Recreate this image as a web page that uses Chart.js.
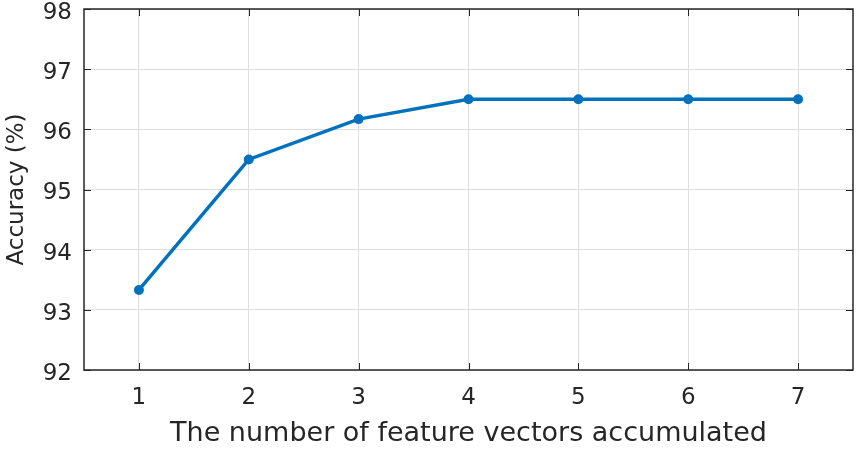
<!DOCTYPE html>
<html>
<head>
<meta charset="utf-8">
<script src="https://cdn.jsdelivr.net/npm/chart.js@4/dist/chart.umd.min.js"></script>
<style>
  html, body { margin: 0; padding: 0; background: #fff; }
  #chart { display: block; }
</style>
</head>
<body>
<canvas id="chart" width="862" height="450"></canvas>
<script>
// Data
const featureCounts = [1, 2, 3, 4, 5, 6, 7];
const accuracy = [93.33, 95.5, 96.17, 96.5, 96.5, 96.5, 96.5];
const yTicks = [92, 93, 94, 95, 96, 97, 98];

const textColor = '#262626';
const gridColor = '#dedede';
const lineColor = '#0072bd';
const fontFamily = '"DejaVu Sans", sans-serif';

// Draws the MATLAB-style box and inward ticks on all four sides
const boxPlugin = {
    id: 'box',
    afterDraw: function(chart) {
        const ctx = chart.ctx;
        const area = chart.chartArea;
        const xs = chart.scales.x;
        const ys = chart.scales.y;
        const len = 7;
        ctx.save();
        ctx.strokeStyle = textColor;
        ctx.lineWidth = 1;
        ctx.beginPath();
        xs.ticks.forEach(t => {
            const px = Math.round(xs.getPixelForValue(t.value)) + 0.5;
            ctx.moveTo(px, area.bottom);
            ctx.lineTo(px, area.bottom - len);
            ctx.moveTo(px, area.top);
            ctx.lineTo(px, area.top + len);
        });
        ys.ticks.forEach(t => {
            const py = Math.round(ys.getPixelForValue(t.value)) + 0.5;
            ctx.moveTo(area.left, py);
            ctx.lineTo(area.left + len, py);
            ctx.moveTo(area.right, py);
            ctx.lineTo(area.right - len, py);
        });
        ctx.stroke();
        ctx.lineWidth = 1.5;
        ctx.strokeRect(area.left, area.top, area.right - area.left, area.bottom - area.top);
        ctx.restore();
    }
};

new Chart(document.getElementById('chart'), {
    type: 'line',
    data: {
        datasets: [{
            data: featureCounts.map((x, i) => ({ x: x, y: accuracy[i] })),
            borderColor: lineColor,
            backgroundColor: lineColor,
            borderWidth: 3.5,
            pointRadius: 5,
            pointBorderWidth: 0,
            pointBackgroundColor: lineColor,
            tension: 0
        }]
    },
    options: {
        responsive: false,
        animation: false,
        layout: { padding: { top: 9, right: 9, left: 0, bottom: 0 } },
        plugins: {
            legend: { display: false },
            tooltip: { enabled: false }
        },
        scales: {
            x: {
                type: 'linear',
                min: 0.5,
                max: 7.5,
                afterBuildTicks: scale => {
                    scale.ticks = featureCounts.map(v => ({ value: v }));
                },
                afterFit: scale => {
                    scale.height = 80;
                    scale.paddingLeft = 0;
                    scale.paddingRight = 0;
                },
                grid: { color: gridColor, drawTicks: false },
                border: { display: false },
                ticks: {
                    color: textColor,
                    padding: 14,
                    font: { family: fontFamily, size: 23 }
                },
                title: {
                    display: true,
                    text: 'The number of feature vectors accumulated',
                    color: textColor,
                    padding: 0,
                    font: { family: fontFamily, size: 27 }
                }
            },
            y: {
                min: 92,
                max: 98,
                afterBuildTicks: scale => {
                    scale.ticks = yTicks.map(v => ({ value: v }));
                },
                afterFit: scale => {
                    scale.width = 84;
                    scale.paddingTop = 0;
                    scale.paddingBottom = 0;
                },
                grid: { color: gridColor, drawTicks: false },
                border: { display: false },
                ticks: {
                    color: textColor,
                    padding: 12,
                    labelOffset: 4,
                    font: { family: fontFamily, size: 23 }
                },
                title: {
                    display: true,
                    text: 'Accuracy (%)',
                    color: textColor,
                    padding: { top: 3, bottom: 0 },
                    font: { family: fontFamily, size: 23 }
                }
            }
        }
    },
    plugins: [boxPlugin]
});
</script>
</body>
</html>
